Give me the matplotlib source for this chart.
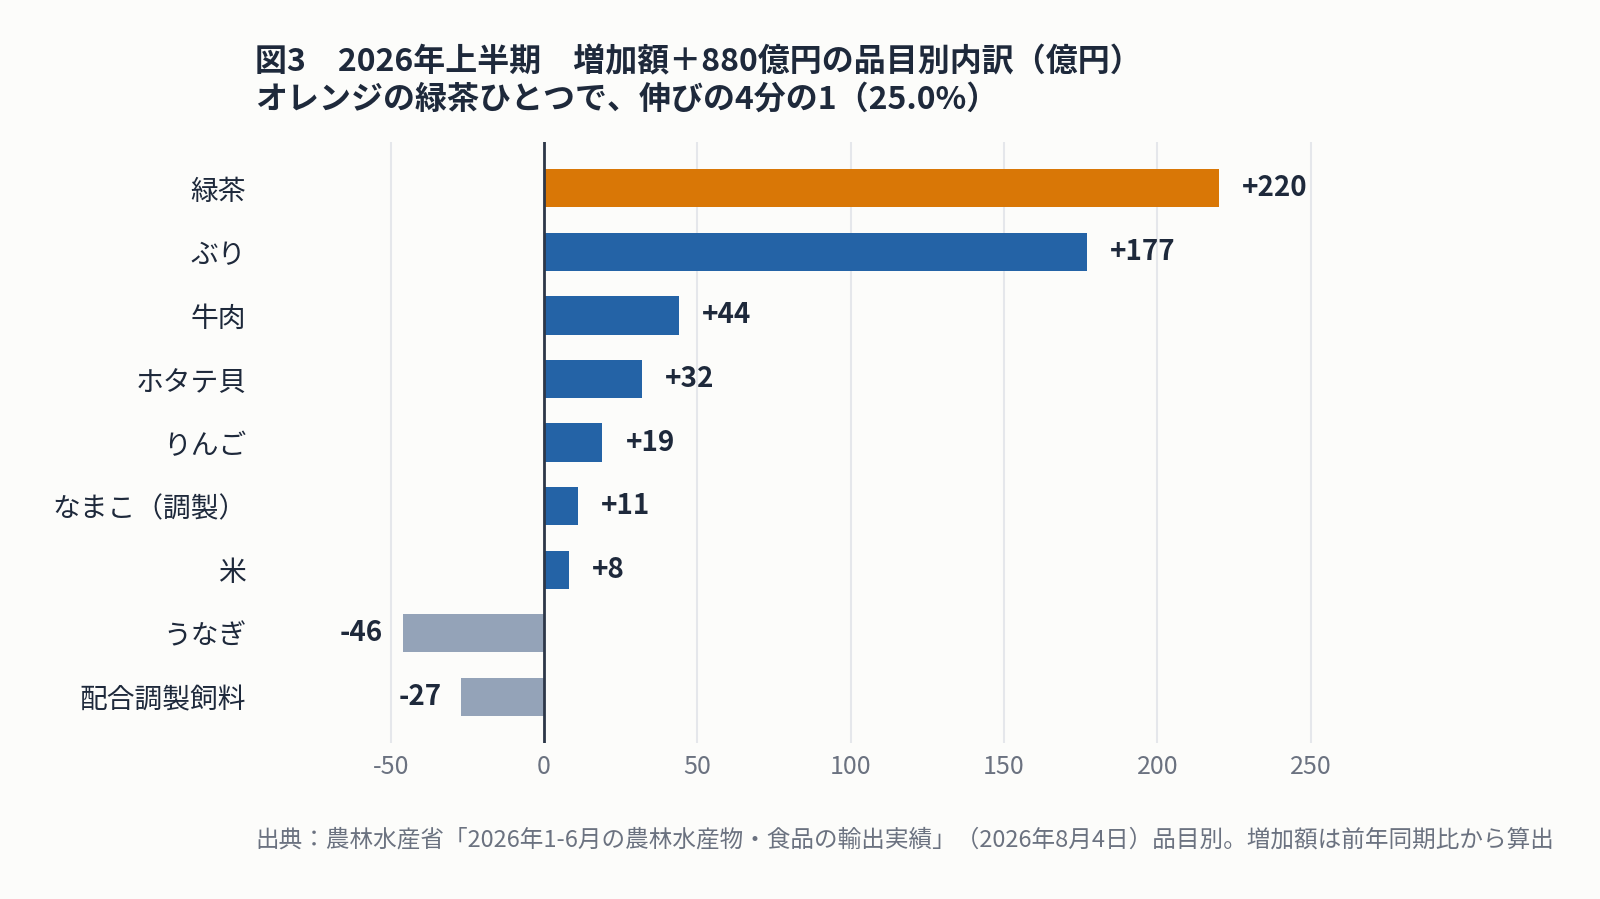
import matplotlib.pyplot as plt
import numpy as np

plt.rcParams['font.family'] = ['Noto Sans CJK JP', 'DejaVu Sans']

# データ（億円）
items = ['緑茶', 'ぶり', '牛肉', 'ホタテ貝', 'りんご', 'なまこ（調製）', '米', 'うなぎ', '配合調製飼料']
values = [220, 177, 44, 32, 19, 11, 8, -46, -27]
labels = ['+220', '+177', '+44', '+32', '+19', '+11', '+8', '-46', '-27']
x_ticks = [-50, 0, 50, 100, 150, 200, 250]

title_text = '図3　2026年上半期　増加額＋880億円の品目別内訳（億円）\nオレンジの緑茶ひとつで、伸びの4分の1（25.0%）'
source_text = '出典：農林水産省「2026年1-6月の農林水産物・食品の輸出実績」（2026年8月4日）品目別。増加額は前年同期比から算出'

ORANGE = '#D97706'
BLUE = '#2463A6'
GRAY = '#94A3B8'
DARK = '#1E293B'
BG = '#FCFCFA'

colors = []
for i, v in enumerate(values):
    if i == 0:
        colors.append(ORANGE)
    elif v >= 0:
        colors.append(BLUE)
    else:
        colors.append(GRAY)

fig = plt.figure(figsize=(16, 8.99), dpi=100, facecolor=BG)
ax = fig.add_axes([0.16, 0.1735, 0.7166, 0.6685])
ax.set_facecolor(BG)

y = np.arange(len(items))
ax.barh(y, values, height=0.6, color=colors, zorder=3)
ax.invert_yaxis()

# 値ラベル
for yi, v, lab in zip(y, values, labels):
    if v >= 0:
        ax.text(v + 7.5, yi, lab, ha='left', va='center', fontsize=20,
                fontweight='bold', color=DARK, zorder=4)
    else:
        ax.text(v - 6.5, yi, lab, ha='right', va='center', fontsize=20,
                fontweight='bold', color=DARK, zorder=4)

ax.set_xlim(-94, 280)
ax.set_xticks(x_ticks)
ax.set_xticklabels([str(t) for t in x_ticks])
ax.set_yticks(y)
ax.set_yticklabels(items)
ax.tick_params(axis='x', length=0, pad=8, labelsize=18, labelcolor='#6B7280')
ax.tick_params(axis='y', length=0, pad=7, labelsize=20, labelcolor=DARK)

ax.grid(axis='x', color='#E5E7EB', linewidth=1.5, zorder=0)
ax.axvline(0, color='#2D3748', linewidth=2, zorder=5)
for s in ax.spines.values():
    s.set_visible(False)

fig.text(255 / 1600, 1 - 81 / 899, title_text, ha='left', va='center',
         fontsize=23, fontweight='bold', color=DARK, linespacing=1.25)
fig.text(255 / 1600, 1 - 840 / 899, source_text, ha='left', va='center',
         fontsize=17, color='#6B7280')

fig.savefig('out.png', dpi=100, facecolor=BG)
